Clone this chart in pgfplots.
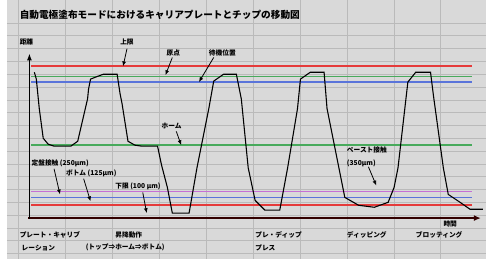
\documentclass[border=0pt]{standalone}
\usepackage{fontspec}
\setmainfont{Noto Sans CJK JP}
\usepackage{pgfplots}
\pgfplotsset{compat=1.18}
\usetikzlibrary{arrows.meta}
\definecolor{bg}{HTML}{D9D9D9}
\definecolor{gridc}{HTML}{BABABA}
\definecolor{lred}{HTML}{E53A3A}
\definecolor{lgreen}{HTML}{48AA5C}
\definecolor{lblue}{HTML}{5A74DA}
\definecolor{lpurple}{HTML}{C670D4}
\begin{document}
\begin{tikzpicture}
\begin{axis}[width=486pt,height=263pt,scale only axis,
  xmin=0,xmax=486,ymin=0,ymax=263,y dir=reverse,
  axis line style={draw=none},
  axis background/.style={fill=bg},
  xtick={12,59.6,...,490},ytick={23,36,...,258},
  xticklabels=\empty,yticklabels=\empty,
  major tick length=0pt,
  grid=major,major grid style={gridc,line width=0.6pt},
  clip=false]
% reference levels (fine dotted lines, drawn as tinted thin lines)
\addplot[lred,line width=1.7pt] coordinates {(25,67)(472,67)};
\addplot[lgreen,line width=1.3pt] coordinates {(25,77)(472,77)};
\addplot[lblue,line width=1.3pt] coordinates {(25,83)(472,83)};
\addplot[lgreen,line width=1.6pt] coordinates {(25,147)(472,147)};
\addplot[lpurple,line width=1.6pt] coordinates {(25,194)(472,194)};
\addplot[lblue,line width=1.5pt] coordinates {(25,200)(472,200)};
\addplot[lred,line width=1.7pt] coordinates {(25,208)(472,208)};
% axes
\addplot[black!80!red,line width=1.3pt,-{Latex[length=7pt,width=6pt]}] coordinates {(22,221)(481,221)};
\addplot[black,line width=1.1pt,-{Latex[length=7pt,width=5pt]}] coordinates {(23,222)(23,54)};
% motion curve
\addplot[black,line width=1.1pt] coordinates {
(28,73)(30,80)(33,110)(37,140)(42,146)(48,148)(65,148)(72,143)(82,100)(83,90)(85,80)(90,78)(98,75)(112,75)
(115,95)(117,105)(123,143)(130,147)(137,148)(153,148)(157,167)(163,190)(168,216)(185,216)(193,170)(205,110)
(210,82)(220,75)(233,75)(238,100)(245,170)(252,203)(262,213)(277,213)(285,170)(295,110)(298,80)(308,73)
(322,73)(325,110)(337,170)(343,200)(357,208)(373,210)(387,205)(393,190)(397,170)(407,83)(415,73)(430,73)
(433,97)(443,170)(448,197)(460,205)(470,212)(483,212)};
% annotation arrows
\addplot[black,line width=0.8pt,-{Latex[length=5pt,width=4pt]}] coordinates {(122,49)(118,67)};
\addplot[black,line width=0.8pt,-{Latex[length=5pt,width=4pt]}] coordinates {(168,58)(161,76)};
\addplot[black,line width=0.8pt,-{Latex[length=5pt,width=4pt]}] coordinates {(210,58)(195,83)};
\addplot[black,line width=0.8pt,-{Latex[length=5pt,width=4pt]}] coordinates {(172,133)(177,147)};
\addplot[black,line width=0.8pt,-{Latex[length=5pt,width=4pt]}] coordinates {(48,171)(54,197)};
\addplot[black,line width=0.8pt,-{Latex[length=5pt,width=4pt]}] coordinates {(78,181)(85,204)};
\addplot[black,line width=0.8pt,-{Latex[length=5pt,width=4pt]}] coordinates {(138,195)(142,216)};
\addplot[black,line width=0.8pt,-{Latex[length=5pt,width=4pt]}] coordinates {(367,169)(375,188)};
% texts
\node[anchor=west,inner sep=0pt,font=\fontsize{9.8}{10}\selectfont\bfseries] at (axis cs:13,15) {自動電極塗布モードにおけるキャリアプレートとチップの移動図};
\def\lf{\fontsize{6.8}{7}\selectfont\bfseries}
\node[anchor=west,inner sep=0pt,font=\lf] at (axis cs:13,42) {距離};
\node[anchor=west,inner sep=0pt,font=\lf] at (axis cs:115,42) {上限};
\node[anchor=west,inner sep=0pt,font=\lf] at (axis cs:162,53) {原点};
\node[anchor=west,inner sep=0pt,font=\lf] at (axis cs:205,53) {待機位置};
\node[anchor=west,inner sep=0pt,font=\lf] at (axis cs:157,128) {ホーム};
\node[anchor=west,inner sep=0pt,font=\lf] at (axis cs:25,165) {定盤接触 (250μm)};
\node[anchor=west,inner sep=0pt,font=\lf] at (axis cs:60,176) {ボトム (125μm)};
\node[anchor=west,inner sep=0pt,font=\lf] at (axis cs:110,189) {下限 (100 μm)};
\node[anchor=west,inner sep=0pt,font=\lf] at (axis cs:345,152) {ペースト接触};
\node[anchor=west,inner sep=0pt,font=\lf] at (axis cs:345,165) {(350μm)};
\node[anchor=west,inner sep=0pt,font=\lf] at (axis cs:443,227) {時間};
\node[anchor=west,inner sep=0pt,font=\lf] at (axis cs:13,238) {プレート・キャリブ};
\node[anchor=west,inner sep=0pt,font=\lf] at (axis cs:15,251) {レーション};
\node[anchor=west,inner sep=0pt,font=\lf] at (axis cs:110,238) {昇降動作};
\node[anchor=west,inner sep=0pt,font=\lf] at (axis cs:80,251) {(トップ⇒ホーム⇒ボトム)};
\node[anchor=west,inner sep=0pt,font=\lf] at (axis cs:252,238) {プレ・ディップ};
\node[anchor=west,inner sep=0pt,font=\lf] at (axis cs:252,251) {プレス};
\node[anchor=west,inner sep=0pt,font=\lf] at (axis cs:345,238) {ディッピング};
\node[anchor=west,inner sep=0pt,font=\lf] at (axis cs:415,238) {ブロッティング};
\end{axis}
\end{tikzpicture}
\end{document}
